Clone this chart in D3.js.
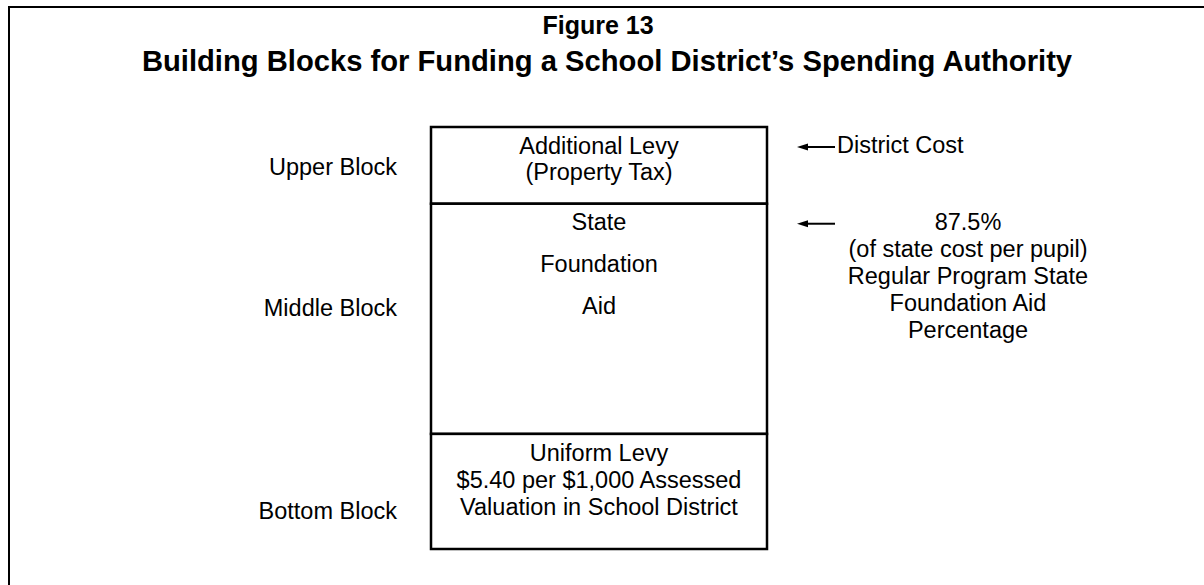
<!DOCTYPE html>
<html>
<head>
<meta charset="utf-8">
<script src="https://cdn.jsdelivr.net/npm/d3@7"></script>
<style>
  html, body { margin: 0; padding: 0; background: #fff; }
  svg { display: block; font-family: "Liberation Sans", Arial, sans-serif; }
</style>
</head>
<body>
<svg width="1204" height="585"></svg>
<script>
// figure titles
var figureLabel = "Figure 13";
var figureTitle = "Building Blocks for Funding a School District\u2019s Spending Authority";

// the three blocks, top to bottom
var blockNames = ["Upper Block", "Middle Block", "Bottom Block"];
var blockUnits = [1, 3, 1.5];
var blockText = [
	["Additional Levy", "(Property Tax)"],
	["State", "Foundation", "Aid"],
	["Uniform Levy", "$5.40 per $1,000 Assessed", "Valuation in School District"]
];

// notes with arrows on the right, pointing at the top of a block
var noteBlock = [0, 1];
var noteText = [
	["District Cost"],
	["87.5%", "(of state cost per pupil)", "Regular Program State", "Foundation Aid", "Percentage"]
];

var svg = d3.select("svg"),
	width = +svg.attr("width"),
	height = +svg.attr("height"),
	fontSize = 23.5;

// layout of text inside each block (baseline offsets from block top)
var innerOffsets = [[27, 53], [26, 68, 110], [27, 54, 81]];
var labelOffsets = [48, 112, 85];

// outer frame (runs off the right and bottom)
svg.append("rect")
	.attr("x", 9)
	.attr("y", 7)
	.attr("width", width + 20)
	.attr("height", height + 20)
	.attr("fill", "none")
	.attr("stroke", "#000")
	.attr("stroke-width", 2);

svg.append("text")
	.attr("x", 598)
	.attr("y", 34)
	.attr("text-anchor", "middle")
	.attr("font-weight", "bold")
	.attr("font-size", 25)
	.text(figureLabel);

svg.append("text")
	.attr("x", 607)
	.attr("y", 71)
	.attr("text-anchor", "middle")
	.attr("font-weight", "bold")
	.attr("font-size", 29.2)
	.text(figureTitle);

// cumulative stacking of the blocks
var edges = [0];
blockUnits.forEach((u, i) => edges.push(edges[i] + u));
var y = d3.scaleLinear().domain([0, d3.sum(blockUnits)]).range([127, 549]);
var x = d3.scaleLinear().domain([0, 1]).range([431, 767]);

var blocks = blockNames.map((name, i) => ({
	name: name,
	top: y(edges[i]),
	bottom: y(edges[i + 1]),
	lines: blockText[i].map((t, j) => ({ t: t, off: innerOffsets[i][j] }))
}));

var g = svg.selectAll(".block")
	.data(blocks)
	.enter()
	.append("g")
	.attr("class", "block");

g.append("rect")
	.attr("x", x(0))
	.attr("y", d => d.top)
	.attr("width", x(1) - x(0))
	.attr("height", d => d.bottom - d.top)
	.attr("fill", "#fff")
	.attr("stroke", "#000")
	.attr("stroke-width", 2.5);

g.each(function (d) {
	d3.select(this).selectAll(".inner")
		.data(d.lines)
		.enter()
		.append("text")
		.attr("class", "inner")
		.attr("x", x(0.5))
		.attr("y", l => d.top + l.off)
		.attr("text-anchor", "middle")
		.attr("font-size", fontSize)
		.text(l => l.t);
});

// labels on the left
g.append("text")
	.attr("x", 397)
	.attr("y", (d, i) => d.top + labelOffsets[i])
	.attr("text-anchor", "end")
	.attr("font-size", fontSize)
	.text(d => d.name);

// arrows and notes
noteBlock.forEach((b, i) => {
	var ay = y(edges[b]) + 20;
	svg.append("line")
		.attr("x1", 835)
		.attr("y1", ay)
		.attr("x2", 805)
		.attr("y2", ay)
		.attr("stroke", "#000")
		.attr("stroke-width", 2);
	svg.append("path")
		.attr("d", d3.line()([[797, ay], [808, ay - 3.5], [808, ay + 3.5]]) + "Z")
		.attr("fill", "#000");
	var nt = svg.append("text")
		.attr("font-size", fontSize);
	if (noteText[i].length === 1) {
		nt.attr("x", 837).attr("y", ay + 6).text(noteText[i][0]);
	} else {
		nt.selectAll("tspan")
			.data(noteText[i])
			.enter()
			.append("tspan")
			.attr("x", 968)
			.attr("y", (d, j) => ay + 6 + j * 27)
			.attr("text-anchor", "middle")
			.text(d => d);
	}
});
</script>
</body>
</html>
